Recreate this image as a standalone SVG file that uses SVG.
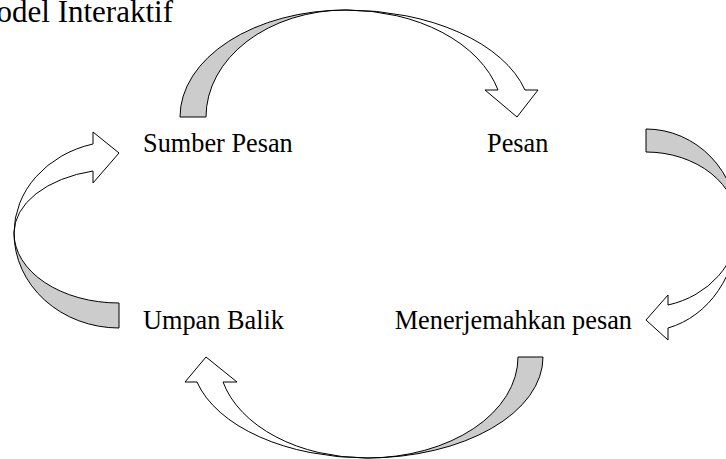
<svg xmlns="http://www.w3.org/2000/svg" width="726" height="459" viewBox="0 0 726 459">
<style>
.lbl{font-family:"Liberation Serif","Times New Roman",serif;font-size:26.3px;fill:#000}
.ttl{font-family:"Liberation Serif","Times New Roman",serif;font-size:31px;fill:#000}
.g{fill:#cccccc;stroke:#000;stroke-width:1}
.w{fill:#fff;stroke:#000;stroke-width:1}
</style>
<rect width="726" height="459" fill="#fff"/>
<text class="ttl" x="173" y="22" text-anchor="end">Model Interaktif</text>
<g id="connectors">
  <g id="arrow-top">
    <path class="g" d="M180,117 A166,107 0 0 1 346,10 A140,107 0 0 0 206,117 Z"/>
    <path class="w" d="M346,10 A185,107 0 0 1 525,90 L538,90 L517,117 L485,90 L498,90 A157,107 0 0 0 346,10 Z"/>
  </g>
  <g id="arrow-right">
    <path class="g" d="M646,129 A92,96 0 0 1 738,225 A92,73 0 0 0 646,152 Z"/>
    <path class="w" d="M738,225 A92,106 0 0 1 668,328 L668,340 L646,320 L668,295 L668,305 A92,82 0 0 0 738,225 Z"/>
  </g>
  <g id="arrow-bottom">
    <path class="g" d="M543,357 A176,101 0 0 1 367,458 A151,101 0 0 0 518,357 Z"/>
    <path class="w" d="M367,458 A175.5,101 0 0 1 197,382 L185,382 L206,357 L237,382 L223,382 A148.6,101 0 0 0 367,458 Z"/>
  </g>
  <g id="arrow-left">
    <path class="g" d="M119,328 A105,95 0 0 1 14,233 A105,70 0 0 0 119,303 Z"/>
    <path class="w" d="M14,233 A105,91.9 0 0 1 93,144 L93,132 L119,153 L93,183 L93,171 A105,64 0 0 0 14,233 Z"/>
  </g>
</g>
<g id="node-sumber"><text class="lbl" x="143" y="152">Sumber Pesan</text></g>
<g id="node-pesan"><text class="lbl" x="487" y="152">Pesan</text></g>
<g id="node-menerjemahkan"><text class="lbl" x="632" y="329" text-anchor="end">Menerjemahkan pesan</text></g>
<g id="node-umpan"><text class="lbl" x="143" y="329">Umpan Balik</text></g>
</svg>
